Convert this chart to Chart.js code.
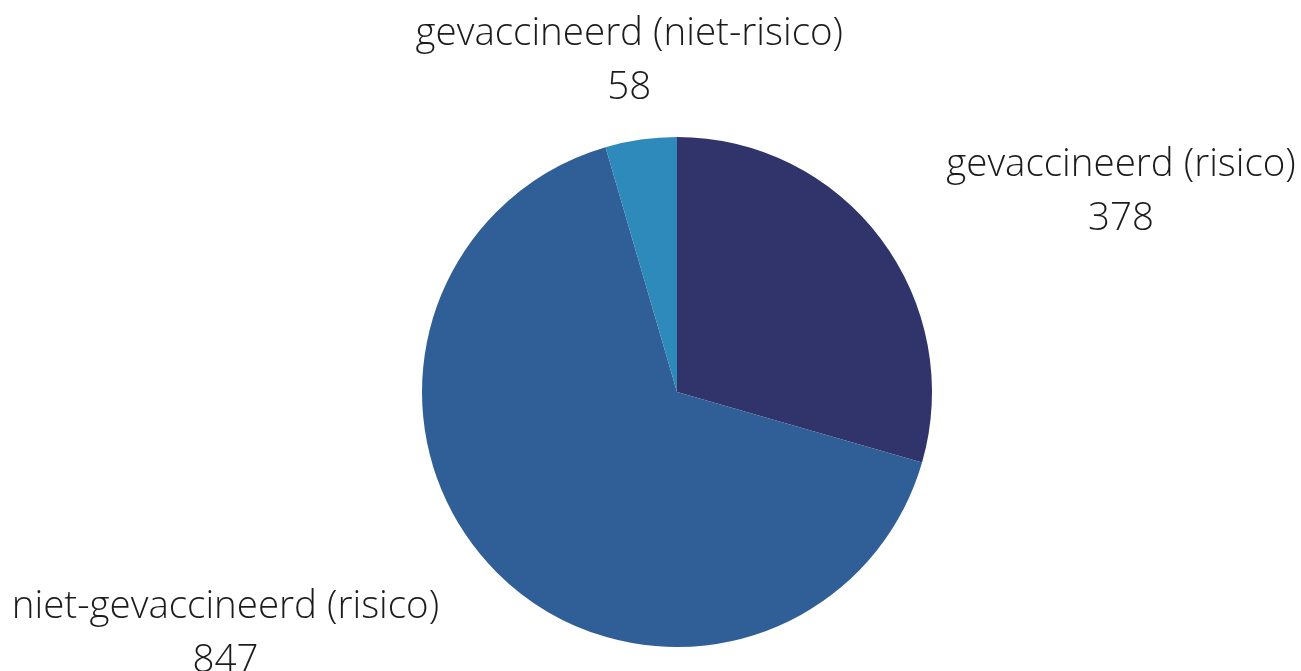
<!DOCTYPE html>
<html>
<head>
<meta charset="utf-8">
<script src="https://cdn.jsdelivr.net/npm/chart.js@4/dist/chart.umd.min.js"></script>
<style>
    html, body { margin: 0; padding: 0; background: #fff; }
    #wrap { width: 1301px; height: 671px; position: relative; }
</style>
</head>
<body>
<div id="wrap"><canvas id="pieChart"></canvas></div>
<script>
const labels = ['gevaccineerd (risico)', 'niet-gevaccineerd (risico)', 'gevaccineerd (niet-risico)'];
const values = [378, 847, 58];
const colors = ['#30346a', '#2f5f96', '#2d8aba'];

// draws "name / value" blocks outside each slice, along its mid angle
const outsideLabels = {
    id: 'outsideLabels',
    afterDatasetsDraw(chart) {
        const ctx = chart.ctx;
        const meta = chart.getDatasetMeta(0);
        const fontSize = 38.5, lineH = 54, gap = 82;
        ctx.save();
        ctx.font = `300 ${fontSize}px "Open Sans"`;
        ctx.fillStyle = '#1c1c1c';
        ctx.textBaseline = 'middle';
        meta.data.forEach((arc, i) => {
            const mid = (arc.startAngle + arc.endAngle) / 2;
            const r = arc.outerRadius + gap;
            const ax = arc.x + Math.cos(mid) * r;
            const ay = arc.y + Math.sin(mid) * r + 3;
            const lines = [labels[i], String(values[i])];
            const w = Math.max(...lines.map(t => ctx.measureText(t).width));
            let cx;
            const c = Math.cos(mid);
            if (c > 0.5) cx = ax + w / 2;
            else if (c < -0.5) cx = ax - w / 2;
            else cx = ax;
            ctx.textAlign = 'center';
            lines.forEach((t, k) => {
                ctx.fillText(t, cx, ay + (k - 0.5) * lineH);
            });
        });
        ctx.restore();
    }
};

new Chart(document.getElementById('pieChart'), {
    type: 'pie',
    data: {
        labels: labels,
        datasets: [{ data: values, backgroundColor: colors, borderWidth: 0 }]
    },
    options: {
        responsive: true,
        maintainAspectRatio: false,
        animation: false,
        layout: { padding: { top: 137, bottom: 24, left: 422, right: 369 } },
        plugins: { legend: { display: false }, tooltip: { enabled: false } }
    },
    plugins: [outsideLabels]
});
</script>
</body>
</html>
